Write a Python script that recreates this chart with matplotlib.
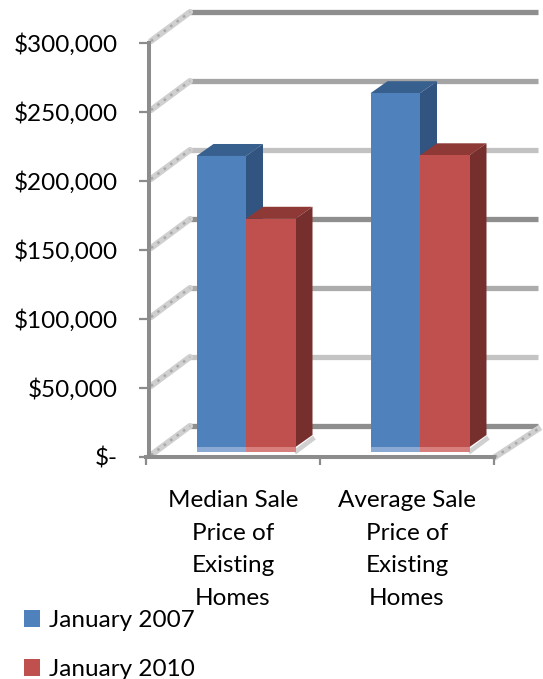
import matplotlib
matplotlib.use("Agg")
import matplotlib.pyplot as plt
from matplotlib.patches import Polygon, Patch
from matplotlib.ticker import FuncFormatter

categories = ["Median Sale\nPrice of\nExisting\nHomes", "Average Sale\nPrice of\nExisting\nHomes"]
series_names = ["January 2007", "January 2010"]
jan_2007 = [214500, 260000]
jan_2010 = [169000, 215000]
y_ticks = [0, 50000, 100000, 150000, 200000, 250000, 300000]

W, H = 543, 679
plt.rcParams["font.family"] = ["Lato", "DejaVu Sans"]
FS = 17.5
fig = plt.figure(figsize=(W / 100, H / 100), dpi=100)
L, R, T, B = 146, 494, 43, 457
ax = fig.add_axes([L / W, 1 - B / H, (R - L) / W, (B - T) / H])
ax.set_xlim(0, 2)
ax.set_ylim(0, 300000)
UX = (R - L) / 2          # px per category
UY = (B - T) / 300000     # px per dollar
dx = lambda p: p / UX
dy = lambda p: p / UY

GREY = "#8c8c8c"
# 3-D box: back wall offset and bar depth, in px
BX, BY = 41, 31
back_cols = ["#8e8e8e", "#c4c4c4", "#acacac", "#8e8e8e", "#c2c2c2", "#a4a4a4", "#8e8e8e"]
for v, c in zip(y_ticks, back_cols):
    yb = v + dy(BY)
    ax.plot([dx(44), dx(392)], [yb, yb], color=c, lw=3.8, solid_capstyle="butt", clip_on=False, zorder=1)
    ax.plot([dx(5), dx(44)], [v + dy(2), yb], color="#d0d0d0", lw=4.4, solid_capstyle="round", clip_on=False, zorder=1.2)
    ax.plot([dx(5), dx(44)], [v + dy(2), yb], color="#a8a8a8", lw=1.8, ls=(0, (1, 2.2)), clip_on=False, zorder=1.3)
# floor right edge
ax.plot([dx(349), dx(392)], [dy(0), dy(BY - 3)], color="#d0d0d0", lw=4.4, clip_on=False, zorder=1.2)
ax.plot([dx(349), dx(392)], [dy(0), dy(BY - 3)], color="#a8a8a8", lw=1.8, ls=(0, (1, 2.2)), clip_on=False, zorder=1.3)

# Bars
BW = dx(49.5)
SHIFT = dx(13)
BASE = dy(5)
DX, DY = dx(17), dy(12)
xs = [0.5 + i + SHIFT for i in range(len(categories))]
face = {0: ("#4f81bd", "#38608f", "#325480", "#8aaad4"), 1: ("#c0504d", "#8e3936", "#772f2e", "#d67f7c")}
for k, vals in enumerate([jan_2007, jan_2010]):
    front, top, side, band = face[k]
    for x, v in zip(xs, vals):
        x0 = x - BW if k == 0 else x
        x1 = x0 + BW
        z = 3 + k
        ax.bar(x0, v, width=BW, bottom=BASE, align="edge", color=front, lw=0, zorder=z + .2)
        ax.bar(x0, dy(5), width=BW, bottom=BASE, align="edge", color=band, lw=0, zorder=z + .3)
        yt = BASE + v
        ax.add_patch(Polygon([(x0, yt), (x1, yt), (x1 + DX, yt + DY), (x0 + DX, yt + DY)],
                             closed=True, fc=top, ec="none", zorder=z + .1, clip_on=False))
        ax.add_patch(Polygon([(x1, BASE + dy(5)), (x1, yt), (x1 + DX, yt + DY), (x1 + DX, BASE + dy(5) + DY)],
                             closed=True, fc=side, ec="none", zorder=z + .1, clip_on=False))
        if k == 1:
            ax.plot([x1 + dx(1), x1 + DX], [BASE + dy(1), BASE + dy(1) + DY], color="#d0d0d0", lw=3.4, zorder=z)

# Axes
for s in ("top", "right"):
    ax.spines[s].set_visible(False)
ax.patch.set_alpha(0)
ax.spines["left"].set_position(("outward", -3 * 0.72))
for s in ("left", "bottom"):
    ax.spines[s].set_color(GREY)
    ax.spines[s].set_linewidth(2.9)
ax.set_yticks(y_ticks)
ax.yaxis.set_major_formatter(FuncFormatter(lambda v, _: "$-" if v == 0 else f"${int(v):,}"))
ax.set_xticks([0, 1, 2])
ax.set_xticklabels([])
ax.tick_params(axis="y", length=7, width=1.6, color=GREY, labelsize=FS, pad=15.3, labelcolor="#000000")
ax.tick_params(axis="x", length=5.5, width=1.6, color=GREY)
ax.set_xticks([0.5, 1.5], minor=True)
ax.set_xticklabels(categories, minor=True, fontsize=FS, color="#000000", linespacing=1.68)
ax.tick_params(axis="x", which="minor", length=0, pad=24)

handles = [Patch(fc=face[0][0], label=series_names[0]), Patch(fc=face[1][0], label=series_names[1])]
fig.legend(handles=handles, loc="upper left", bbox_to_anchor=(24 / W, 1 - 610 / H), frameon=False,
           fontsize=FS, labelcolor="#000000", handlelength=0.66, handleheight=0.66, handletextpad=0.35,
           labelspacing=1.15, borderpad=0, borderaxespad=0)
fig.savefig("out.png", dpi=100)
